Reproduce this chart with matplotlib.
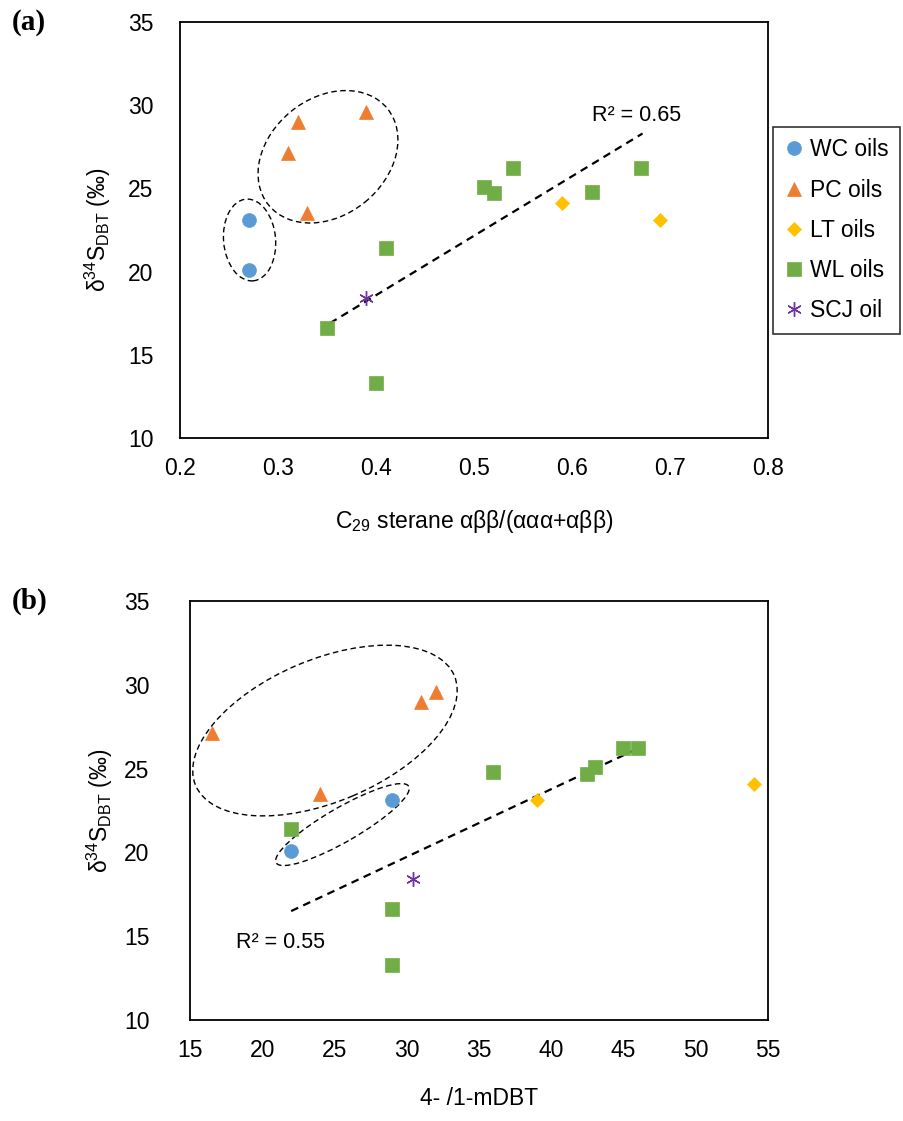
import numpy as np
import matplotlib
matplotlib.use('Agg')
import matplotlib.pyplot as plt
from matplotlib.patches import Ellipse
from matplotlib.transforms import ScaledTranslation

plt.rcParams['font.family'] = ['Liberation Sans', 'DejaVu Sans']
plt.rcParams['mathtext.fontset'] = 'custom'
plt.rcParams['mathtext.rm'] = 'Liberation Sans'
plt.rcParams['mathtext.it'] = 'Liberation Sans:italic'

# ---- data ----
groups = ['WC oils', 'PC oils', 'LT oils', 'WL oils', 'SCJ oil']

d34s_wc = [23.1, 20.1]
d34s_pc = [29.0, 29.6, 27.1, 23.5]
d34s_lt = [24.1, 23.1]
d34s_wl = [21.4, 16.6, 13.3, 25.1, 24.7, 26.2, 24.8, 26.2]
d34s_scj = [18.4]

sterane_wc = [0.27, 0.27]
sterane_pc = [0.32, 0.39, 0.31, 0.33]
sterane_lt = [0.59, 0.69]
sterane_wl = [0.41, 0.35, 0.40, 0.51, 0.52, 0.54, 0.62, 0.67]
sterane_scj = [0.39]

mdbt_wc = [29.0, 22.0]
mdbt_pc = [31.0, 32.0, 16.5, 24.0]
mdbt_lt = [54.0, 39.0]
mdbt_wl = [22.0, 29.0, 29.0, 43.0, 42.5, 45.0, 36.0, 46.0]
mdbt_scj = [30.4]

# trend lines (end points)
trend_a_x = [0.353, 0.672]
trend_a_y = [16.9, 28.3]
trend_b_x = [22.0, 46.0]
trend_b_y = [16.5, 26.2]

colors = ['#5B9BD5', '#ED7D31', '#FFC000', '#70AD47', '#7030A0']
markers = ['o', '^', 'D', 's', (6, 2, 0)]
msizes = [10, 10, 6.8, 9.6, 10.5]

fig = plt.figure(figsize=(9.04, 11.21), dpi=100)
ax_a = fig.add_axes([180 / 904, 1 - 438 / 1121, 588 / 904, 416 / 1121])
ax_b = fig.add_axes([190 / 904, 1 - 1020 / 1121, 578 / 904, 419 / 1121])


def draw_points(ax, xs, ys):
    handles = []
    for x, y, c, m, s, name in zip(xs, ys, colors, markers, msizes, groups):
        h, = ax.plot(x, y, ls='none', marker=m, ms=s, color=c, mec=c,
                     mew=1.0 if isinstance(m, tuple) else 0.5, label=name, zorder=3)
        handles.append(h)
    return handles


def dashed_ellipse(ax, cx, cy, w_px, h_px, angle):
    tr = fig.dpi_scale_trans + ScaledTranslation(cx, cy, ax.transData)
    ax.add_patch(Ellipse((0, 0), w_px / 100, h_px / 100, angle=angle, transform=tr,
                         fill=False, ec='black', lw=1.0, ls=(0, (4, 2.5)), zorder=2))


def style_axes(ax, xticks, xfmt, ylabel_x):
    ax.set_ylim(10, 35)
    ax.set_yticks(range(10, 36, 5))
    ax.set_xticks(xticks)
    ax.set_xticklabels([xfmt.format(t) for t in xticks])
    ax.set_xlim(xticks[0], xticks[-1])
    ax.tick_params(length=0, labelsize=16.5)
    ax.tick_params(axis='y', pad=ylabel_x)
    ax.tick_params(axis='x', pad=14)
    for sp in ax.spines.values():
        sp.set_linewidth(1.3)
        sp.set_color('black')


# ---- panel (a) ----
handles = draw_points(ax_a, [sterane_wc, sterane_pc, sterane_lt, sterane_wl, sterane_scj],
                      [d34s_wc, d34s_pc, d34s_lt, d34s_wl, d34s_scj])
ax_a.plot(trend_a_x, trend_a_y, color='black', lw=1.6, ls=(0, (3.5, 2.5)), zorder=2)
dashed_ellipse(ax_a, 0.351, 26.9, 153, 117, 39)
dashed_ellipse(ax_a, 0.271, 21.9, 52, 82, 5)
ax_a.text(0.62, 29.4, 'R² = 0.65', fontsize=15.5, ha='left', va='center')
style_axes(ax_a, np.round(np.arange(0.2, 0.81, 0.1), 1), '{:.1f}', 19)
ax_a.set_xlabel('C$_{29}$ sterane αββ/(ααα+αββ)', fontsize=16.5, labelpad=20)
ax_a.set_ylabel('δ$^{34}$S$_{\\mathrm{DBT}}$ (‰)', fontsize=16.5)
ax_a.yaxis.set_label_coords(-0.114, 0.5)

# ---- panel (b) ----
draw_points(ax_b, [mdbt_wc, mdbt_pc, mdbt_lt, mdbt_wl, mdbt_scj],
            [d34s_wc, d34s_pc, d34s_lt, d34s_wl, d34s_scj])
ax_b.plot(trend_b_x, trend_b_y, color='black', lw=1.6, ls=(0, (3.5, 2.5)), zorder=2)
dashed_ellipse(ax_b, 24.34, 27.27, 281, 142, 23)
dashed_ellipse(ax_b, 25.55, 21.66, 153, 34, 30)
ax_b.text(18.2, 14.65, 'R² = 0.55', fontsize=15.5, ha='left', va='center')
style_axes(ax_b, list(range(15, 56, 5)), '{:d}', 29)
ax_b.set_xlabel('4- /1-mDBT', fontsize=16.5, labelpad=18)
ax_b.set_ylabel('δ$^{34}$S$_{\\mathrm{DBT}}$ (‰)', fontsize=16.5)
ax_b.yaxis.set_label_coords(-0.130, 0.5)

# panel letters
fig.text(12 / 904, 1 - 22 / 1121, '(a)', fontsize=21, fontweight='bold',
         family=['Liberation Serif'], va='center', ha='left')
fig.text(12 / 904, 1 - 601 / 1121, '(b)', fontsize=21, fontweight='bold',
         family=['Liberation Serif'], va='center', ha='left')

leg = fig.legend(handles=handles, loc='upper left', bbox_to_anchor=(773 / 904, 1 - 127 / 1121),
                 fontsize=16.5, frameon=True, fancybox=False, edgecolor='black',
                 handlelength=0.8, handletextpad=0.3, labelspacing=0.75,
                 borderpad=0.5, borderaxespad=0)
leg.get_frame().set_linewidth(1.2)

fig.savefig('out.png', dpi=100)
